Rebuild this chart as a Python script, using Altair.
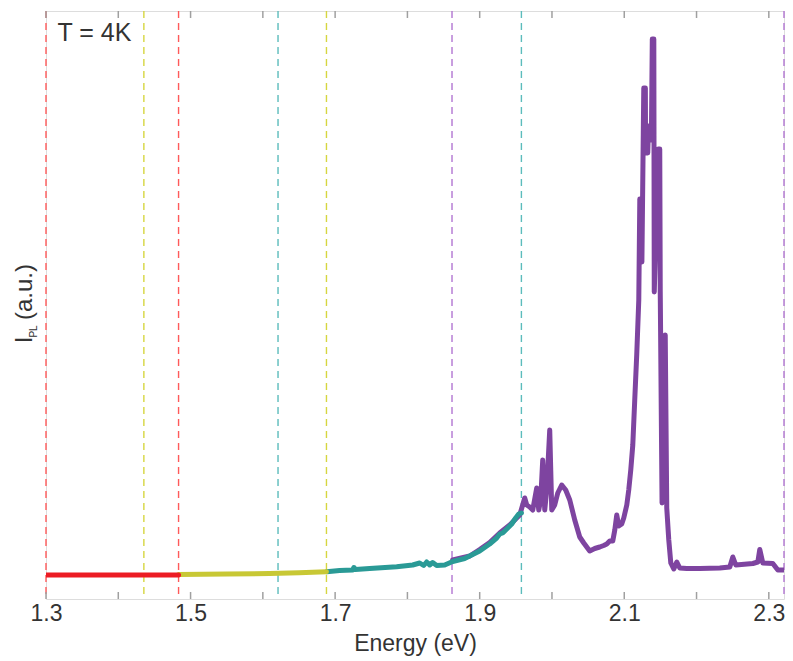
import altair as alt
import pandas as pd

# ---- data ----
red_E = [1.300, 1.360, 1.420, 1.4834]
red_I = [24, 24, 24, 24]

yellow_E = [1.4834, 1.550, 1.6094, 1.650, 1.688]
yellow_I = [24.5, 25.0, 25.5, 26.3, 27.3]

teal_E = [1.6882, 1.7062, 1.7242, 1.7260, 1.7280, 1.7478, 1.7851, 1.8073, 1.8170,
          1.8225, 1.8266, 1.8308, 1.8349, 1.8405, 1.8516, 1.8626, 1.8792, 1.9000,
          1.9138, 1.9235, 1.9277, 1.9318, 1.9388, 1.9443, 1.9498, 1.9540, 1.9577]
teal_I = [27.3, 28.5, 29.0, 31.5, 29.5, 30.5, 32.3, 34.0, 36.0,
          33.5, 37.0, 34.0, 36.5, 33.5, 34.0, 37.5, 40.5, 48.0,
          55.0, 61.0, 65.0, 66.0, 71.0, 75.0, 81.0, 85.0, 86.0]

purple_E = [1.8626, 1.8862, 1.9000, 1.9138, 1.9277, 1.9415, 1.9554, 1.9623, 1.9651,
            1.9692, 1.9734, 1.9789, 1.9817, 1.9844, 1.9872, 1.9900, 1.9927, 1.9969,
            1.9997, 2.0038, 2.0080, 2.0135, 2.0190, 2.0246, 2.0315, 2.0384, 2.0440,
            2.0522, 2.0592, 2.0661, 2.0716, 2.0758, 2.0799, 2.0841, 2.0869, 2.0896,
            2.0924, 2.0965, 2.0993, 2.1035, 2.1062, 2.1090, 2.1118, 2.1145, 2.1173,
            2.1201, 2.1215, 2.1240, 2.1244, 2.1270, 2.1292, 2.1295, 2.1325, 2.1336,
            2.1353, 2.1375, 2.1388, 2.1409, 2.1415, 2.1471, 2.1491, 2.1498, 2.1523,
            2.1567, 2.1588, 2.1616, 2.1644, 2.1685, 2.1727, 2.1768, 2.1865, 2.2045,
            2.2322, 2.2460, 2.2502, 2.2543, 2.2779, 2.2848, 2.2875, 2.2917, 2.3055,
            2.3125, 2.3208]
purple_I = [39, 43, 49.5, 56.5, 66, 74, 84, 101, 94,
            92, 89, 111, 89, 99, 139, 89, 109, 169,
            89, 94, 106, 114, 109, 99, 79, 62, 56,
            48, 50.5, 52, 53.5, 55, 58, 58, 69, 84,
            73, 75, 81, 94, 109, 129, 154, 199, 245,
            299, 400, 400, 337, 511, 511, 446, 446, 473,
            464, 459, 560, 560, 307, 450, 450, 307, 96,
            264, 91, 59, 36, 30, 37, 31, 30.5, 30.5,
            31, 32, 42, 34, 35.5, 37, 49.5, 36, 35.5,
            29, 29]

# vertical dashed markers
marker_E = [1.300, 1.4354, 1.4834, 1.621, 1.688, 1.8617, 1.9577, 2.321]
marker_seg = ["red", "yellow", "red", "teal", "yellow", "purple", "teal", "purple"]

tick_values = [1.3, 1.4, 1.5, 1.6, 1.7, 1.8, 1.9, 2.0, 2.1, 2.2, 2.3]
label_values = [1.3, 1.5, 1.7, 1.9, 2.1, 2.3]

X_DOMAIN = [1.3, 2.321]
Y_DOMAIN = [0, 588]
W, H = 738, 588

line_colors = {"red": "#ec1c24", "yellow": "#c8c835", "teal": "#2a9a96", "purple": "#7e44a0"}
dash_colors = {"red": "#ff5a5a", "yellow": "#d6d640", "teal": "#5cbcbc", "purple": "#b276d2"}

rows = []
for seg, E, I in [("purple", purple_E, purple_I), ("teal", teal_E, teal_I),
                  ("yellow", yellow_E, yellow_I), ("red", red_E, red_I)]:
    for e, i in zip(E, I):
        rows.append({"seg": seg, "E": e, "I": i})
curve = pd.DataFrame(rows)

xs = alt.Scale(domain=X_DOMAIN, nice=False, zero=False)
ys = alt.Scale(domain=Y_DOMAIN, nice=False, zero=False)

x_axis = alt.Axis(values=label_values, format=".1f", domain=False, ticks=False, grid=False,
                  labelFlush=False, labelFont="Liberation Sans", labelFontSize=23,
                  labelColor="#333333", labelPadding=3, title="Energy (eV)",
                  titleFont="Liberation Sans", titleFontSize=23, titleFontWeight="normal",
                  titleColor="#333333", titlePadding=7)

markers = pd.DataFrame({"E": marker_E, "seg": marker_seg})
dash_layers = []
for seg in ["red", "yellow", "teal", "purple"]:
    dash_layers.append(
        alt.Chart(markers).transform_filter(alt.datum.seg == seg)
        .mark_rule(strokeDash=[7, 5], strokeWidth=1.4, color=dash_colors[seg])
        .encode(x=alt.X("E:Q", scale=xs, axis=x_axis))
    )

line_layers = []
for seg in ["purple", "teal", "yellow", "red"]:
    line_layers.append(
        alt.Chart(curve).transform_filter(alt.datum.seg == seg)
        .mark_line(strokeWidth=5, color=line_colors[seg], strokeJoin="round",
                   strokeCap="round", clip=True)
        .encode(x=alt.X("E:Q", scale=xs, axis=x_axis),
                y=alt.Y("I:Q", scale=ys, axis=None))
    )

ticks_df = pd.DataFrame({"E": tick_values})
tick_bottom = alt.Chart(ticks_df).mark_rule(color="#a0a0a0", strokeWidth=1.5).encode(
    x=alt.X("E:Q", scale=xs, axis=x_axis), y=alt.value(H), y2=alt.value(H - 7))
tick_top = alt.Chart(ticks_df).mark_rule(color="#a0a0a0", strokeWidth=1.5).encode(
    x=alt.X("E:Q", scale=xs, axis=x_axis), y=alt.value(0), y2=alt.value(7))

def txt(s, size, x, y, angle=0, align="center"):
    return alt.Chart(pd.DataFrame({"t": [s]})).mark_text(
        font="Liberation Sans", fontSize=size, color="#333333", angle=angle,
        align=align, baseline="alphabetic").encode(
        text="t:N", x=alt.value(x), y=alt.value(y))

ylab_I = txt("I", 24, -14.5, 329, angle=270)
ylab_PL = txt("PL", 10, -9, 320.5, angle=270)
ylab_au = txt("(a.u.)", 24, -14.5, 281, angle=270)
temp = txt("T = 4K", 25, 11.5, 29.7, align="left")

chart = alt.layer(
    *dash_layers, tick_bottom, tick_top, *line_layers, ylab_I, ylab_PL, ylab_au, temp
).properties(
    width=W, height=H,
    autosize=alt.AutoSizeParams(type="none"),
    padding={"left": 46, "top": 11, "right": 9, "bottom": 62},
).configure_view(stroke="#a8a8a8", strokeWidth=1.5).configure(background="white")

chart.save("out.html", embed_options={"renderer": "svg", "actions": False})
